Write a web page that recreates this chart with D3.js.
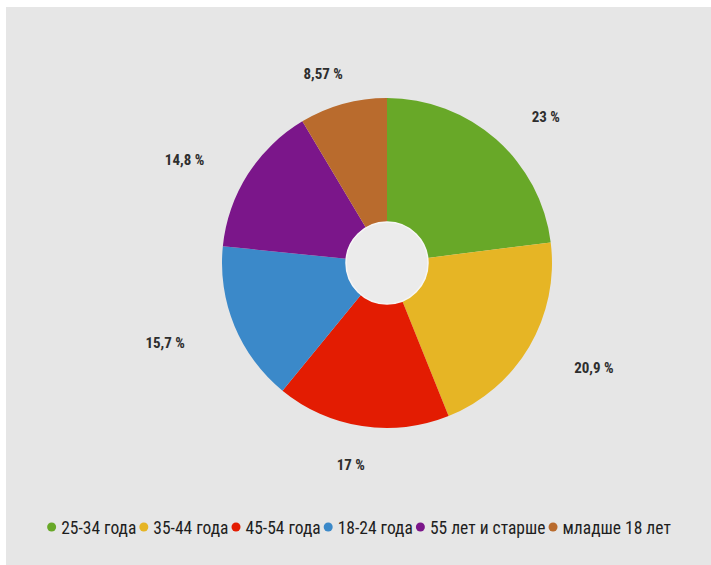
<!DOCTYPE html>
<html>
<head>
<meta charset="utf-8">
<script src="https://cdn.jsdelivr.net/npm/d3@7"></script>
<style>
  html, body { margin: 0; padding: 0; background: #ffffff; }
  svg { display: block; }
</style>
</head>
<body>
<svg id="chart" width="711" height="565"></svg>
<script>
const categories = ["25-34 года", "35-44 года", "45-54 года", "18-24 года", "55 лет и старше", "младше 18 лет"];
const values = [23, 20.9, 17, 15.7, 14.8, 8.57];
const valueLabels = ["23 %", "20,9 %", "17 %", "15,7 %", "14,8 %", "8,57 %"];
const colors = ["#68a828", "#e6b525", "#e31c02", "#3b89c9", "#7b168a", "#b96b2d"];

const W = 711, H = 565;
const svg = d3.select("#chart");

svg.append("rect").attr("x", 6).attr("y", 7).attr("width", W - 6).attr("height", H - 7).attr("fill", "#e6e6e6");

const cx = 387, cy = 263, outerR = 165, innerR = 41;
const g = svg.append("g").attr("transform", `translate(${cx},${cy})`);

const data = categories.map((c, i) => ({ cat: c, value: values[i], label: valueLabels[i], color: colors[i] }));
const pie = d3.pie().value(d => d.value).sort(null);
const arcs = pie(data);
const arc = d3.arc().innerRadius(innerR).outerRadius(outerR);

g.selectAll("path.slice").data(arcs).enter().append("path")
  .attr("class", "slice")
  .attr("d", arc)
  .attr("fill", d => d.data.color);

g.append("circle").attr("r", innerR).attr("fill", "#ebebeb").attr("stroke", "#f6f6f6").attr("stroke-width", 1.5);

const FONT = "'Roboto Condensed', 'Liberation Sans Narrow', 'Liberation Sans', sans-serif";

// value labels on an ellipse around the donut
const rx = 240, ry = 200;
const labelG = svg.append("g").attr("transform", `translate(${cx},${cy})`);
arcs.forEach(d => {
  const a = (d.startAngle + d.endAngle) / 2;
  labelG.append("text")
    .attr("x", Math.sin(a) * rx)
    .attr("y", -Math.cos(a) * ry + 9)
    .attr("text-anchor", "middle")
    .style("font-family", FONT)
    .style("font-weight", "700")
    .style("font-size", "15px")
    .style("fill", "#2e2e2e")
    .text(d.data.label);
});

// legend
const legend = svg.append("g");
const ly = 528;
let x = 0;
data.forEach(d => {
  legend.append("circle").attr("cx", x + 4.5).attr("cy", ly - 1).attr("r", 4.5).attr("fill", d.color);
  const t = legend.append("text").attr("x", x + 14).attr("y", ly + 6)
    .style("font-family", FONT)
    .style("font-size", "17.5px")
    .style("fill", "#1e1e1e")
    .text(d.cat);
  x += 14 + t.node().getComputedTextLength() + 3;
});
const totalW = x - 3;
legend.attr("transform", `translate(${359 - totalW / 2},0)`);
</script>
</body>
</html>
